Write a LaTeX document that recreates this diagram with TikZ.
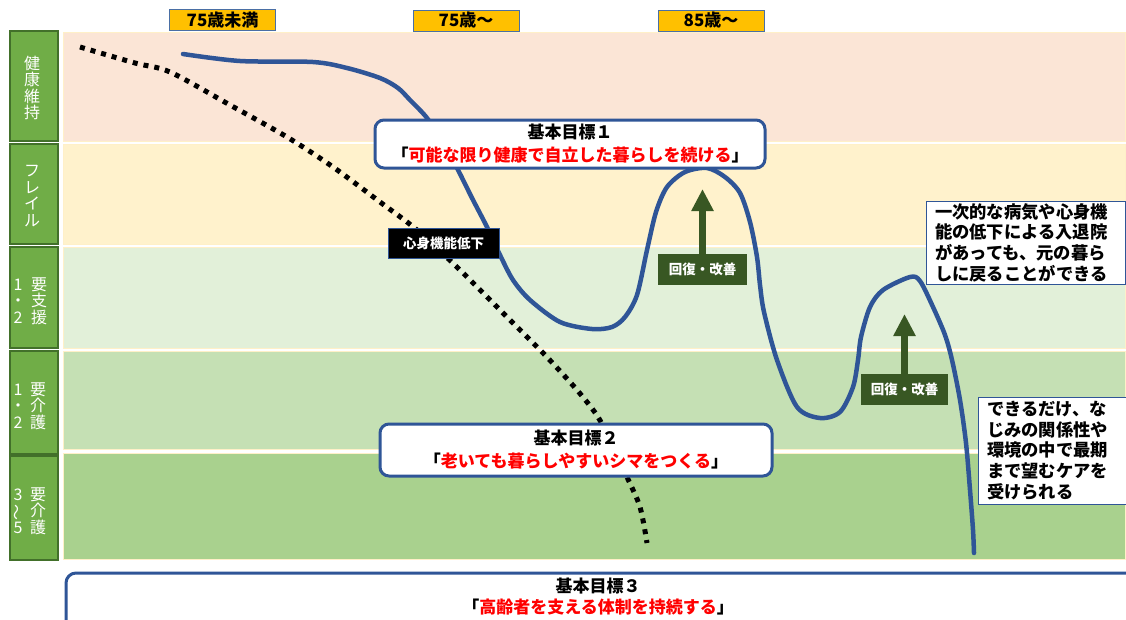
\documentclass[tikz,border=0pt]{standalone}
\usepackage{fontspec}
\newfontfamily\jp{Noto Sans CJK JP}
\usetikzlibrary{arrows.meta}
\definecolor{bandA}{HTML}{FBE5D6}
\definecolor{bandB}{HTML}{FFF2CC}
\definecolor{bandC}{HTML}{E2F0D9}
\definecolor{bandD}{HTML}{C5E0B4}
\definecolor{bandE}{HTML}{A9D18E}
\definecolor{bandedge}{HTML}{FFF0C8}
\definecolor{lblgreen}{HTML}{70AD47}
\definecolor{lbledge}{HTML}{42702A}
\definecolor{curveblue}{HTML}{2F5597}
\definecolor{darkgreen}{HTML}{385723}
\definecolor{ageorange}{HTML}{FFC000}
\definecolor{ageedge}{HTML}{4A6FA5}
\definecolor{goalred}{HTML}{FF0000}
\begin{document}
\begin{tikzpicture}[x=1pt,y=-1pt,
  every node/.style={font=\jp},
  band/.style={draw=bandedge, line width=1pt},
  lblbox/.style={fill=lblgreen, draw=lbledge, line width=1.2pt, inner sep=0pt},
  lbltext/.style={text=white, font=\jp\fontsize{16}{16.5}\selectfont, align=center, inner sep=0pt},
  agebox/.style={fill=ageorange, draw=ageedge, line width=0.8pt, minimum width=106pt, minimum height=21pt, inner sep=0pt, font=\jp\bfseries\fontsize{17}{18}\selectfont},
  goalbox/.style={fill=white, draw=curveblue, line width=3pt, rounded corners=9pt, align=center, inner sep=0pt, font=\jp\bfseries\fontsize{17}{23}\selectfont},
  greenbox/.style={fill=darkgreen, text=white, inner sep=0pt, font=\jp\bfseries\fontsize{13.5}{15}\selectfont},
  notebox/.style={fill=white, draw=curveblue, line width=1pt, align=left, inner ysep=0pt, inner xsep=9pt, font=\jp\bfseries\fontsize{17.3}{20.7}\selectfont},
  uparrow/.style={darkgreen, line width=7pt, -{Triangle[width=21pt,length=22pt]}},
  curve/.style={curveblue, line width=4.5pt, line cap=round, line join=round},
  dotline/.style={black, line width=5pt, dash pattern=on 5pt off 6pt},
]
\clip (0,0) rectangle (1126,619);
\fill[white] (0,0) rectangle (1126,619);

% bands
\filldraw[band, fill=bandA] (63,32) rectangle (1125,141);
\filldraw[band, fill=bandB] (63,144) rectangle (1125,244);
\filldraw[band, fill=bandC] (63,247) rectangle (1125,348);
\filldraw[band, fill=bandD] (63,351) rectangle (1125,449);
\filldraw[band, fill=bandE] (63,453) rectangle (1125,559);

% left labels
\node[lblbox, minimum width=48pt, minimum height=110pt] (L1) at (34,86) {};
\node[lbltext] (L1t) at (32,88) {健\\康\\維\\持};
\node[lblbox, minimum width=48pt, minimum height=100pt] (L2) at (34,194) {};
\node[lbltext] (L2t) at (32,196) {フ\\レ\\イ\\ル};
\node[lblbox, minimum width=48pt, minimum height=101pt] (L3) at (34,297.5) {};
\node[lbltext] (L3a) at (39,301) {要\\支\\援};
\node[lbltext] (L3b) at (18,301) {1\\・\\2};
\node[lblbox, minimum width=48pt, minimum height=103pt] (L4) at (34,402.5) {};
\node[lbltext] (L4a) at (38,406) {要\\介\\護};
\node[lbltext] (L4b) at (18,406) {1\\・\\2};
\node[lblbox, minimum width=48pt, minimum height=104pt] (L5) at (34,508) {};
\node[lbltext] (L5a) at (38,511) {要\\介\\護};
\node[lbltext] (L5b) at (18,511) {3\\\rotatebox[origin=c]{90}{～}\\5};

% age labels
\node[agebox] (A1) at (222.5,20) {75歳未満};
\node[agebox] (A2) at (466,20.5) {75歳～};
\node[agebox] (A3) at (711,20.5) {85歳～};

% dotted decline line
\draw[dotline] plot[smooth, tension=0.5] coordinates {(80,47) (135,63) (170,72) (230,105) (287,137) (333,167) (380,202) (417,230) (460,270) (510,320) (545,355) (577,390) (598,417) (615,450) (627,477) (640,507) (647,543)};

% blue trajectory
\draw[curve] plot[smooth, tension=0.5] coordinates {(183,54) (240,61) (313,62) (347,68) (380,78) (398,88) (410,100) (427,118) (442,142) (457,168) (472,198) (487,227) (500,255) (513,280) (530,300) (560,322) (592,329) (612,327) (625,317) (637,295) (647,250) (656,212) (667,187) (685,172) (707,168) (725,177) (740,193) (750,222) (757,257) (760,285) (764,312) (777,360) (797,407) (820,418) (840,412) (853,387) (858,360) (861,337) (870,307) (883,290) (910,277) (920,281) (933,307) (945,335) (952,360) (960,400) (966,443) (970,490) (973,530) (974,553)};

% decline label
\node[fill=black, draw=curveblue, line width=0.8pt, text=white, minimum width=111pt, minimum height=30pt, inner sep=0pt, font=\jp\bfseries\fontsize{13.5}{15}\selectfont] (decl) at (443.5,243) {心身機能低下};

% recovery boxes and arrows
\node[greenbox, minimum width=89pt, minimum height=31pt] (R1) at (702.5,269.5) {回復・改善};
\coordinate (R1tip) at (702.5,189);
\draw[uparrow] (R1.north) -- (R1tip);
\node[greenbox, minimum width=87pt, minimum height=31pt] (R2) at (904.5,389.5) {回復・改善};
\coordinate (R2tip) at (904.5,314);
\draw[uparrow] (R2.north) -- (R2tip);

% goals
\node[goalbox, minimum width=390pt, minimum height=48pt] (G1) at (570,144) {基本目標１\\「{\color{goalred}可能な限り健康で自立した暮らしを続ける}」};
\node[goalbox, minimum width=392pt, minimum height=52pt] (G2) at (576,450) {基本目標２\\「{\color{goalred}老いても暮らしやすいシマをつくる}」};
\draw[curveblue, line width=3pt, rounded corners=10pt, fill=white] (66,573) rectangle (1145,650);
\node[align=center, inner sep=0pt, font=\jp\bfseries\fontsize{17}{21}\selectfont] (G3) at (598,597) {基本目標３\\「{\color{goalred}高齢者を支える体制を持続する}」};

% notes
\node[notebox, text width=181pt, minimum height=83pt] (N1) at (1025.5,242.5) {一次的な病気や心身機\\能の低下による入退院\\があっても、元の暮ら\\しに戻ることができる};
\node[notebox, text width=138pt, minimum height=107pt] (N2) at (1056,450.5) {できるだけ、な\\じみの関係性や\\環境の中で最期\\まで望むケアを\\受けられる};
\end{tikzpicture}
\end{document}
